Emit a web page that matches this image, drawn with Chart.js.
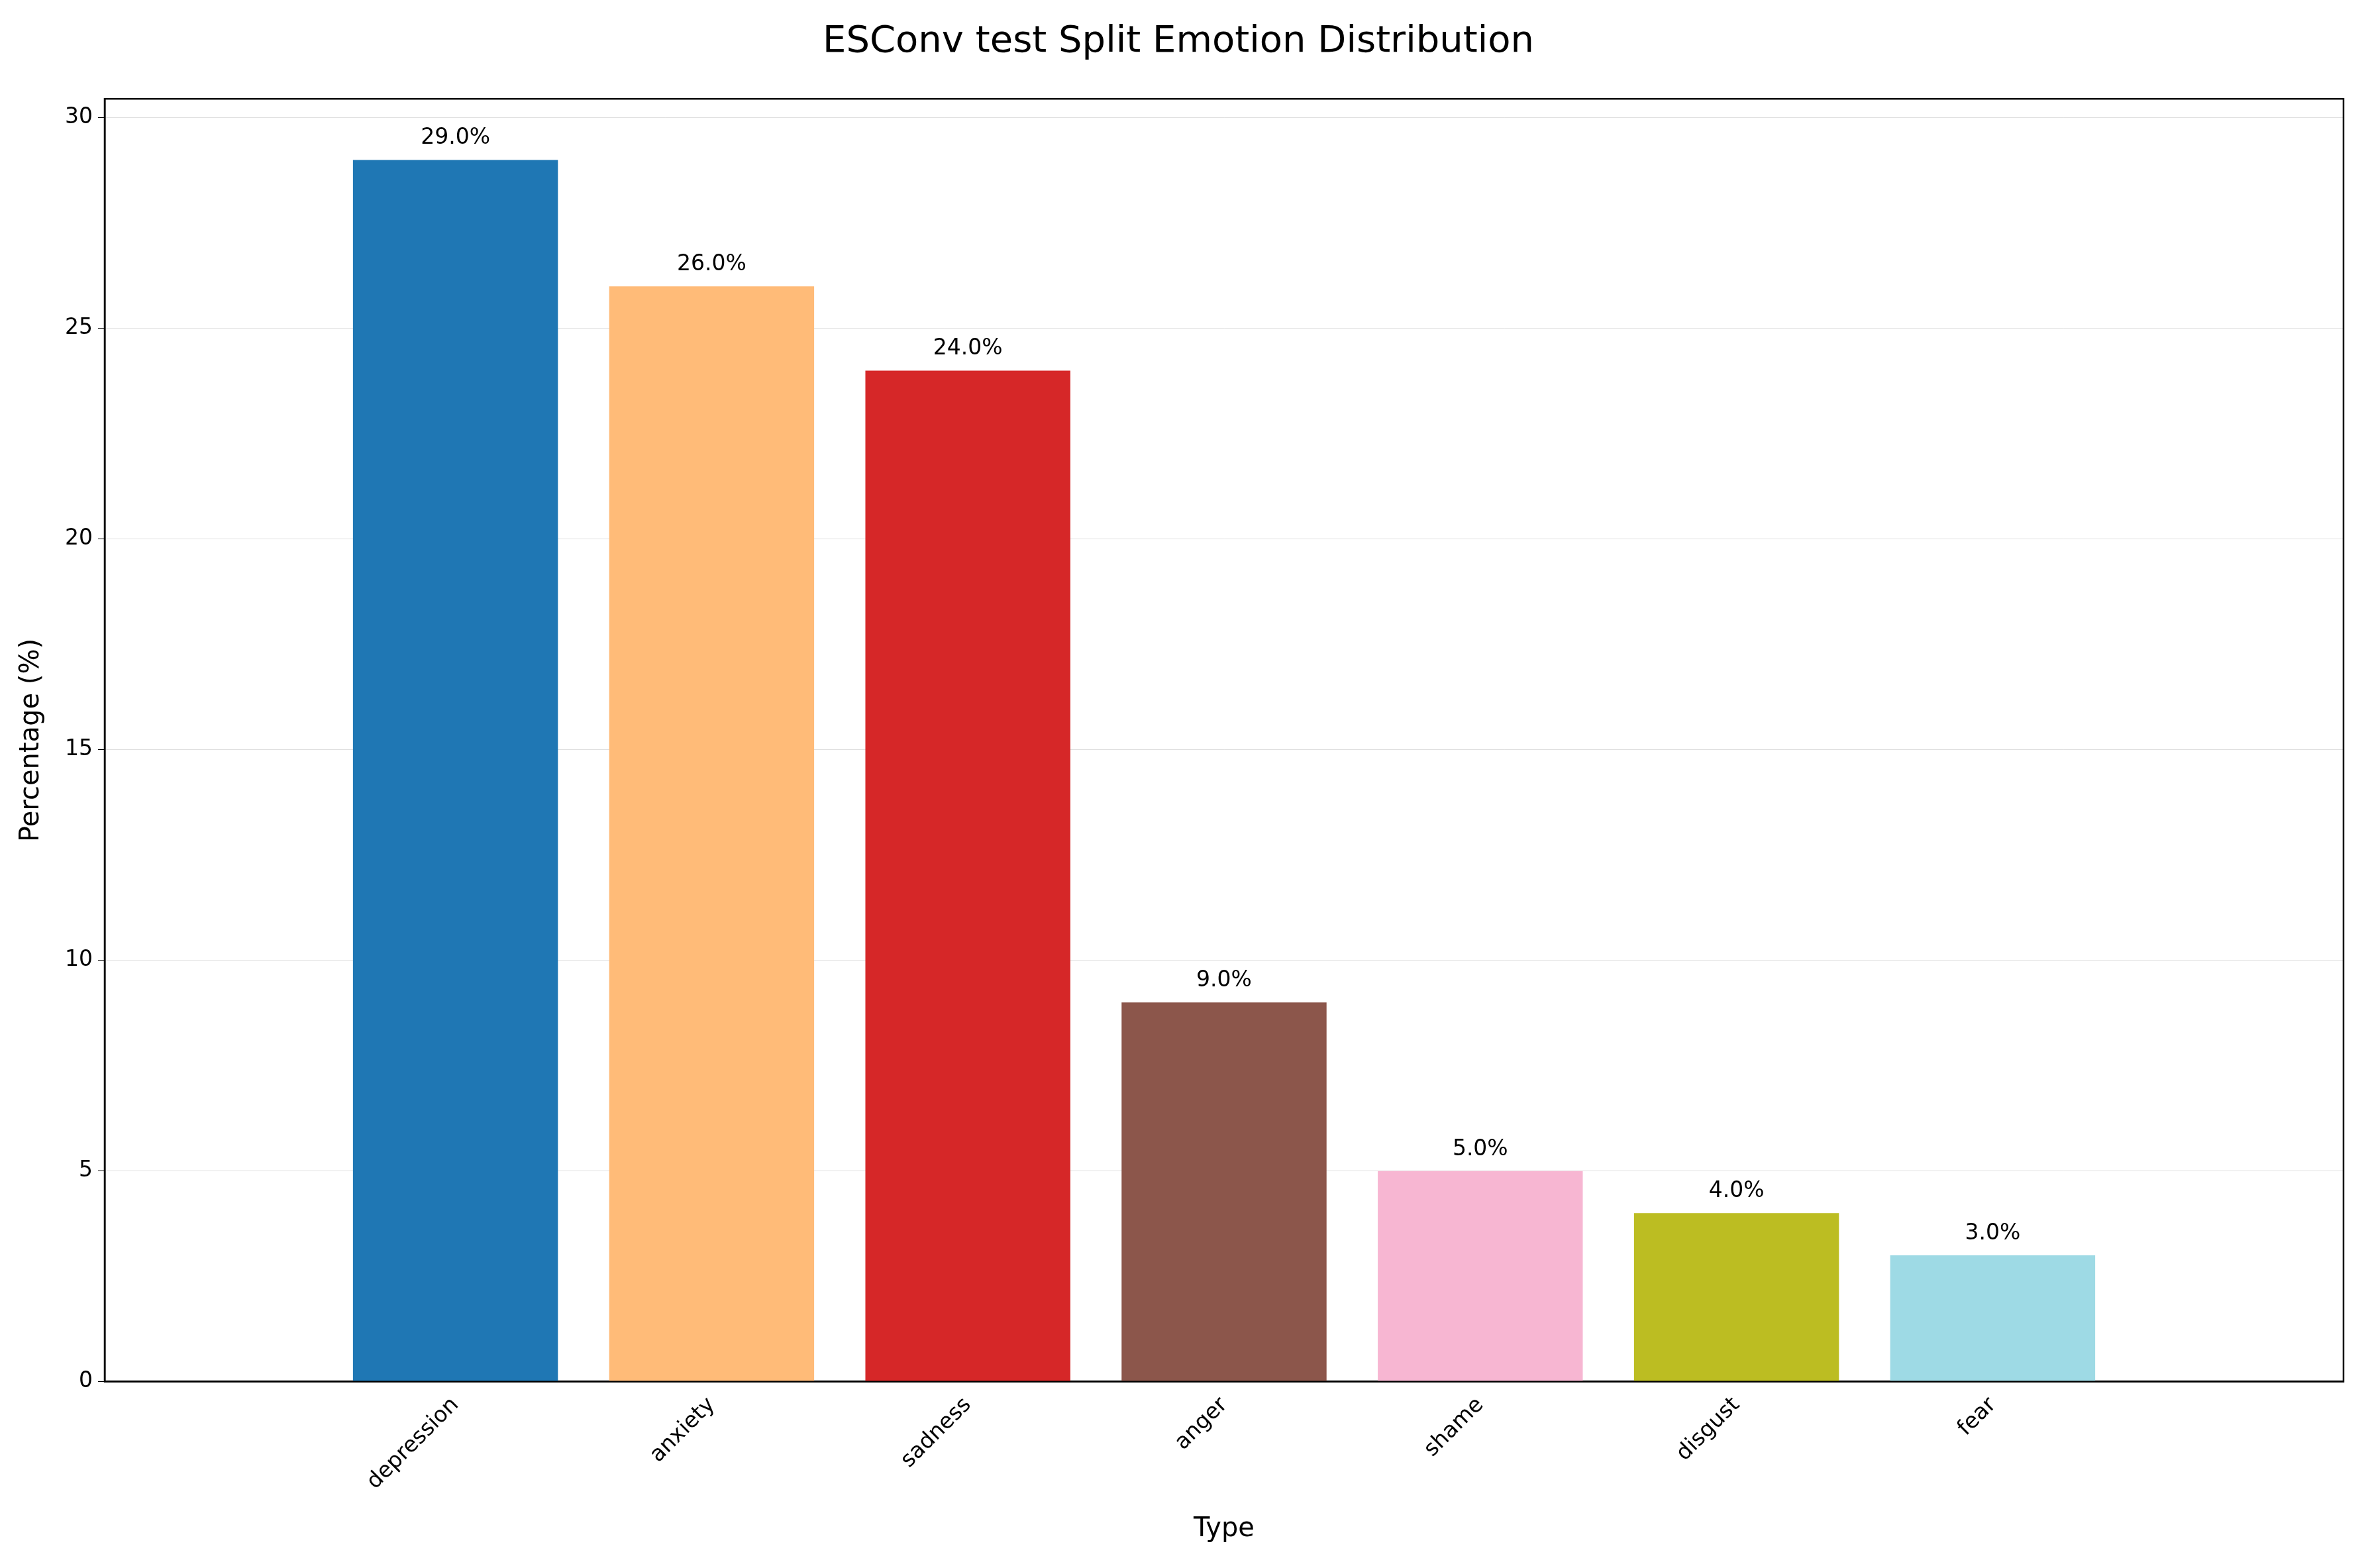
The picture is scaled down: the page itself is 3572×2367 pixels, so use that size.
<!DOCTYPE html>
<html><head><meta charset="utf-8">
<script src="https://cdn.jsdelivr.net/npm/chart.js@4/dist/chart.umd.min.js"></script>
<style>html,body{margin:0;background:#fff}#c{display:block}</style>
</head><body>
<canvas id="c" width="3572" height="2367"></canvas>
<script>
const categories = ["depression","anxiety","sadness","anger","shame","disgust","fear"];
const percentages = [29.0, 26.0, 24.0, 9.0, 5.0, 4.0, 3.0];
const barColors = ["#1f77b4","#ffbb78","#d62728","#8c564b","#f7b6d2","#bcbd22","#9edae5"];
const yTicks = [0,5,10,15,20,25,30];

const labelPlugin = {
  id:'vals',
  afterDatasetsDraw(chart){
    const ctx=chart.ctx, meta=chart.getDatasetMeta(0);
    ctx.save();ctx.font='33px "DejaVu Sans"';ctx.fillStyle='#000';ctx.textAlign='center';ctx.textBaseline='bottom';
    meta.data.forEach((b,i)=>{ctx.fillText(percentages[i].toFixed(1)+'%', b.x, b.y-16);});
    ctx.restore();
  },
  afterDraw(chart){
    const a=chart.chartArea, ctx=chart.ctx;
    ctx.save();ctx.strokeStyle='#000';ctx.lineWidth=2.5;ctx.strokeRect(a.left,a.top,a.right-a.left,a.bottom-a.top);ctx.restore();
  }
};

new Chart(document.getElementById('c'),{
  type:'bar',
  data:{datasets:[{data:percentages.map((v,i)=>({x:i,y:v})),backgroundColor:barColors,barPercentage:0.8,categoryPercentage:1.0}]},
  options:{
    responsive:false,animation:false,devicePixelRatio:1,
    layout:{padding:{left:20,right:34,top:10,bottom:30}},
    plugins:{legend:{display:false},tooltip:{enabled:false},
      title:{display:true,text:'ESConv test Split Emotion Distribution',color:'#000',font:{family:'DejaVu Sans',size:56,weight:'normal'},padding:{top:20,bottom:52}}},
    scales:{
      x:{type:'linear',min:-0.745,max:6.745,afterBuildTicks(ax){ax.ticks=categories.map((c,i)=>({value:i}));},
        grid:{display:false,drawTicks:true,tickColor:'#000',tickLength:10},border:{color:'#000',width:2.5},
        ticks:{color:'#000',font:{family:'DejaVu Sans',size:33},maxRotation:45,minRotation:45,padding:6,callback:(v)=>categories[v]},
        title:{display:true,text:'Type',color:'#000',font:{family:'DejaVu Sans',size:40},padding:{top:22}}},
      y:{min:0,max:30.45,afterBuildTicks(ax){ax.ticks=yTicks.map(v=>({value:v}));},
        grid:{color:'rgba(0,0,0,0.12)',tickColor:'#000',tickLength:10},border:{color:'#000',width:2.5},
        ticks:{color:'#000',font:{family:'DejaVu Sans',size:33},padding:8},
        title:{display:true,text:'Percentage (%)',color:'#000',font:{family:'DejaVu Sans',size:40},padding:{bottom:18}}}
    }
  },
  plugins:[labelPlugin]
});
</script></body></html>
